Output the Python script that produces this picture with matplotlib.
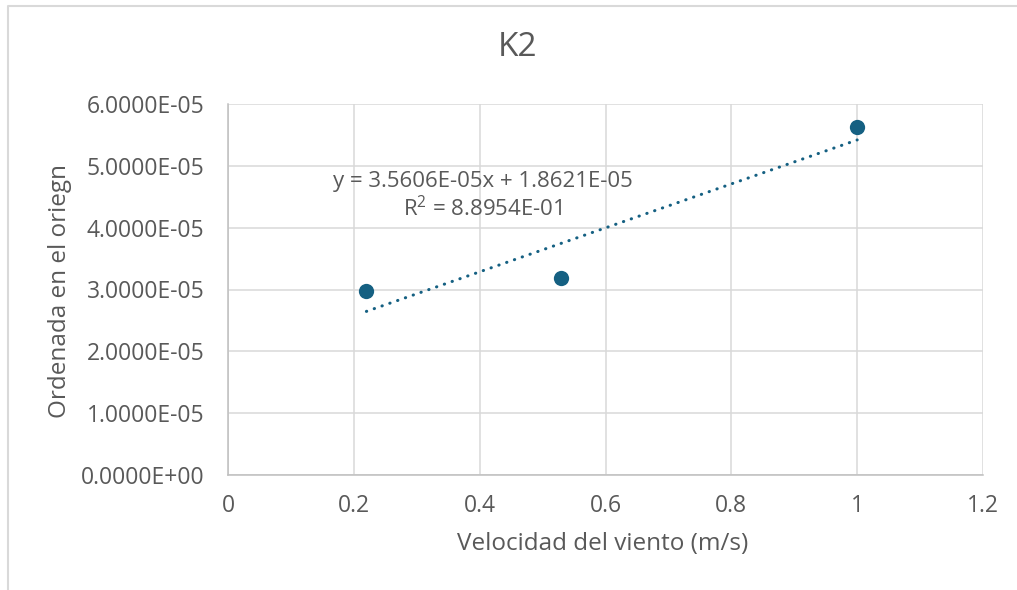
import numpy as np
import matplotlib
matplotlib.use("Agg")
import matplotlib.pyplot as plt
from matplotlib.lines import Line2D

# wind speed (m/s) vs intercept
velocidad = [0.22, 0.53, 1.0]
ordenada = [2.98e-05, 3.18e-05, 5.64e-05]

# linear trendline parameters
pendiente = 3.5606e-05
intercepto = 1.8621e-05
r2 = 8.8954e-01

x_ticks = [0, 0.2, 0.4, 0.6, 0.8, 1.0, 1.2]
x_tick_labels = ["0", "0.2", "0.4", "0.6", "0.8", "1", "1.2"]
y_ticks = [0, 1e-05, 2e-05, 3e-05, 4e-05, 5e-05, 6e-05]

azul = "#156082"
gris_texto = "#595959"

plt.rcParams['font.family'] = ['Open Sans', 'DejaVu Sans']
plt.rcParams['mathtext.fontset'] = 'custom'
plt.rcParams['mathtext.rm'] = 'Open Sans'

W, H = 1017, 590
fig = plt.figure(figsize=(W / 100, H / 100), dpi=100)
ax = fig.add_axes([228 / W, 1 - 474.7 / H, 755 / W, 370.4 / H])

ax.scatter(velocidad, ordenada, s=11 ** 2, color=azul, zorder=3, linewidths=0)

xt = np.array([min(velocidad), max(velocidad)])
ax.plot(xt, pendiente * xt + intercepto, color=azul, linewidth=2.2,
        linestyle=(0, (0.1, 2.6)), dash_capstyle='round', zorder=2)

eq = f"y = {pendiente:.4E}x + {intercepto:.4E}\nR$^2$ = {r2:.4E}"
ax.text(0.405, 4.52e-05, eq, ha='center', va='center', fontsize=16,
        color=gris_texto, linespacing=1.2, multialignment='center')

ax.set_xlim(0, 1.2)
ax.set_ylim(0, 6e-05)
ax.set_xticks(x_ticks)
ax.set_xticklabels(x_tick_labels)
ax.set_yticks(y_ticks)
ax.set_yticklabels([f"{v:.4E}" for v in y_ticks])
ax.tick_params(length=0, labelsize=16.5, colors=gris_texto, pad=14)
ax.tick_params(axis='y', pad=17)
ax.grid(True, color="#D9D9D9", linewidth=1.1)
ax.set_axisbelow(True)
for s in ['top', 'right']:
    ax.spines[s].set_visible(False)
for s in ['left', 'bottom']:
    ax.spines[s].set_color("#BFBFBF")
    ax.spines[s].set_linewidth(1.1)

fig.text(518 / W, 1 - 48 / H, "K2", fontsize=24, color=gris_texto,
         ha='center', va='center')
fig.text(603 / W, 1 - 544 / H, "Velocidad del viento (m/s)", fontsize=17.5,
         color=gris_texto, ha='center', va='center')
fig.text(60 / W, 1 - 291 / H, "Ordenada en el oriegn", fontsize=17.5,
         color=gris_texto, ha='center', va='center', rotation=90)

# chart frame
fig.add_artist(Line2D([8 / W, 8 / W, 1.0], [0.0, 1 - 6 / H, 1 - 6 / H],
                      transform=fig.transFigure, color="#D9D9D9", linewidth=1.5))

fig.savefig("out.png", dpi=100)
